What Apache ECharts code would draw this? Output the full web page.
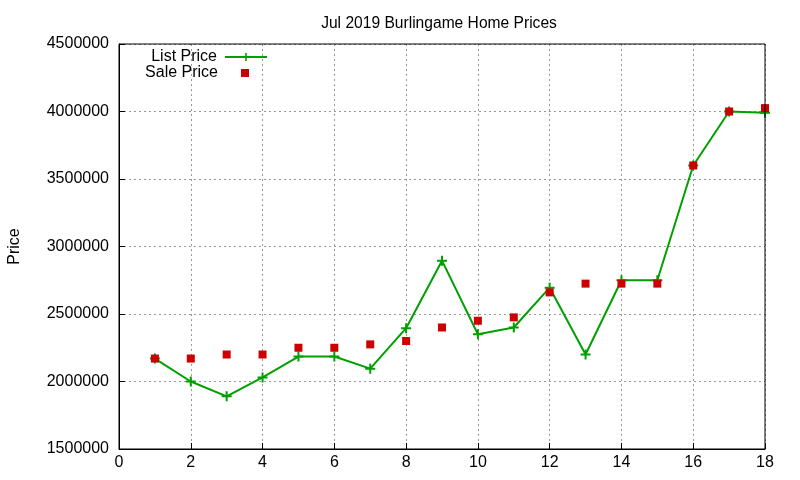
<!DOCTYPE html>
<html><head><meta charset="utf-8">
<script src="https://cdn.jsdelivr.net/npm/echarts@6/dist/echarts.min.js"></script>
<style>html,body{margin:0;padding:0;background:#fff}#c{width:800px;height:480px}</style>
</head><body><div id="c"></div>
<script>
const homes = [1,2,3,4,5,6,7,8,9,10,11,12,13,14,15,16,17,18];
const listPrice = [2170000,2000000,1890000,2030000,2185000,2185000,2095000,2395000,2895000,2350000,2400000,2695000,2200000,2750000,2750000,3600000,4000000,3990000];
const salePrice = [2170000,2170000,2200000,2200000,2250000,2250000,2275000,2300000,2400000,2450000,2475000,2660000,2725000,2725000,2725000,3600000,4000000,4025000];
const xTicks = {min:0, max:18, interval:2};
const yTicks = {min:1500000, max:4500000, interval:500000};

const font = 'Liberation Sans, Arial, sans-serif';
const plus = 'path://M4,0 H6 V4 H10 V6 H6 V10 H4 V6 H0 V4 H4 Z';
const chart = echarts.init(document.getElementById('c'));
chart.setOption({
  animation:false,
  title:{text:'Jul 2019 Burlingame Home Prices', left:434, top:11, textAlign:'center',
    textStyle:{fontFamily:font, fontSize:15.6, fontWeight:'normal', color:'#000'}},
  legend:[
    {orient:'vertical', right:532, top:49, padding:0, align:'right', itemWidth:42, itemHeight:10,
      textStyle:{fontFamily:font, fontSize:16, color:'#000', padding:[0,3,0,0]},
      data:[{name:'List Price'}]},
    {orient:'vertical', right:551, top:65, padding:0, align:'right', itemWidth:8, itemHeight:8,
      textStyle:{fontFamily:font, fontSize:16, color:'#000', padding:[0,18,0,0]},
      data:[{name:'Sale Price', icon:'rect'}]}
  ],
  grid:{left:119, right:35, top:44, bottom:31, outerBoundsMode:'none', containLabel:false},
  xAxis:{type:'value', min:xTicks.min, max:xTicks.max, interval:xTicks.interval,
    axisLine:{lineStyle:{color:'#000', width:1}},
    axisTick:{inside:true, length:6, lineStyle:{color:'#000'}},
    axisLabel:{fontFamily:font, fontSize:16, color:'#000', margin:6},
    splitLine:{show:true, lineStyle:{color:'#999', type:[2,3], width:1}}},
  yAxis:{type:'value', min:yTicks.min, max:yTicks.max, interval:yTicks.interval,
    name:'Price', nameLocation:'middle', nameGap:96, nameRotate:90,
    nameTextStyle:{fontFamily:font, fontSize:16, color:'#000'},
    axisLine:{show:true, lineStyle:{color:'#000', width:1}},
    axisTick:{inside:true, length:6, lineStyle:{color:'#000'}},
    axisLabel:{fontFamily:font, fontSize:16, color:'#000', margin:10, formatter:v=>String(v)},
    splitLine:{show:true, lineStyle:{color:'#999', type:[2,3], width:1}}},
  series:[
    {name:'List Price', type:'line', data:homes.map((h,i)=>[h,listPrice[i]]),
      symbol:plus, symbolSize:10, showAllSymbol:true,
      lineStyle:{color:'#00a000', width:2}, itemStyle:{color:'#00a000'}, z:2},
    {name:'Sale Price', type:'scatter', data:homes.map((h,i)=>[h,salePrice[i]]),
      symbol:'rect', symbolSize:8, itemStyle:{color:'#cc0000', opacity:1}, z:3}
  ],
  graphic:[{type:'rect', shape:{x:119, y:44, width:646, height:405},
    style:{fill:'none', stroke:'#000', lineWidth:1}, z:10, silent:true}]
});
</script></body></html>
